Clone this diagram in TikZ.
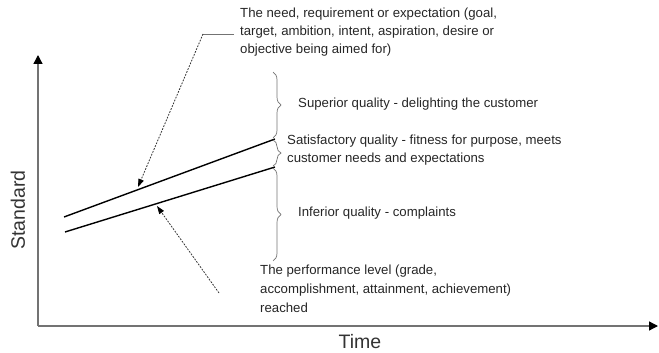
\documentclass[tikz,border=0pt]{standalone}
\usepackage{fontspec}
\setmainfont{Liberation Sans}
\usetikzlibrary{arrows.meta,decorations.pathreplacing}

\begin{document}
\begin{tikzpicture}[x=1pt,y=-1pt,
  axis/.style={draw=black!55, line width=1.3pt,
    -{Triangle[length=9pt,width=9pt,color=black]}},
  levelline/.style={draw=black, line width=1.4pt},
  bracket/.style={draw=black!55, line width=0.7pt, decorate,
    decoration={brace, amplitude=8pt}},
  leader/.style={draw=black!80, line width=0.8pt, dash pattern=on 1.8pt off 1.3pt,
    -{Triangle[length=8pt,width=5.5pt,color=black]}},
  note/.style={font=\fontsize{13.2}{18}\selectfont, text=black!85, inner sep=0pt, align=left},
  axislabel/.style={font=\fontsize{19.5}{24}\selectfont, text=black!80, inner sep=0pt}
]
\useasboundingbox (0,0) rectangle (659,353);

% axes
\coordinate (origin) at (38,326);
\coordinate (ytop) at (38,55);
\coordinate (xend) at (658,326);
\draw[axis] (origin) -- (ytop);
\draw[axis] (origin) -- (xend);
\node[axislabel, rotate=90] (stdlabel) at (18,210) {Standard};
\node[axislabel, anchor=base] (timelabel) at (360,348.5) {Time};

% expectation and performance lines
\coordinate (u0) at (64,217);
\coordinate (u1) at (275,139);
\coordinate (l0) at (65,232);
\coordinate (l1) at (275,167);
\draw[levelline] (u0) -- (u1);
\draw[levelline] (l0) -- (l1);

% quality bands
\coordinate (b0) at (273,72);
\coordinate (b1) at (273,138);
\coordinate (b2) at (273,140);
\coordinate (b3) at (273,166);
\coordinate (b4) at (273,168);
\coordinate (b5) at (273,261);
\draw[bracket] (b0) -- (b1);
\draw[bracket] (b2) -- (b3);
\draw[bracket] (b4) -- (b5);

\node[note, anchor=west] (superior) at (298,104)
  {Superior quality - delighting the customer};
\node[note, anchor=north west] (satisf) at (287,134.5)
  {Satisfactory quality - fitness for purpose, meets\\customer needs and expectations};
\node[note, anchor=west] (inferior) at (298,213)
  {Inferior quality - complaints};

% explanatory notes with leaders
\node[note, anchor=north west] (need) at (240,7.5)
  {The need, requirement or expectation (goal,\\target, ambition, intent, aspiration, desire or\\objective being aimed for)};
\node[note, anchor=north west, font=\fontsize{13.2}{19}\selectfont] (perf) at (260,264.5)
  {The performance level (grade,\\accomplishment, attainment, achievement)\\reached};

\coordinate (k1) at (234,34);
\coordinate (k2) at (203,34);
\coordinate (a1) at (138,187);
\draw[draw=black!55, line width=0.8pt] (k1) -- (k2);
\draw[leader] (k2) -- (a1);

\coordinate (k3) at (219,293);
\coordinate (a2) at (157,206);
\draw[leader] (k3) -- (a2);
\end{tikzpicture}
\end{document}
